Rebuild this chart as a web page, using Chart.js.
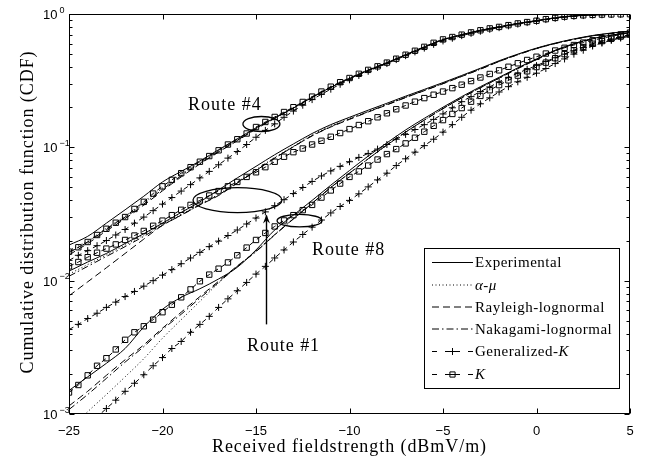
<!DOCTYPE html>
<html><head><meta charset="utf-8">
<script src="https://cdn.jsdelivr.net/npm/chart.js@4/dist/chart.umd.min.js"></script>
<style>html,body{margin:0;padding:0;background:#fff}#wrap{width:654px;height:460px;position:relative}</style>
</head><body><div id="wrap"><canvas id="c" width="654" height="460"></canvas></div>
<script>
// ---------- data ----------
const xCoarse = [-25,-24,-23,-22,-21,-20,-19,-18,-17,-16,-15,-14,-13,-12,-11,-10,-9,-8,-7,-6,-5,-4,-3,-2,-1,0,1,2,3,4,5];
const xFine = [-25,-24.5,-24,-23.5,-23,-22.5,-22,-21.5,-21,-20.5,-20,-19.5,-19,-18.5,-18,-17.5,-17,-16.5,-16,-15.5,-15,-14.5,-14,-13.5,-13,-12.5,-12,-11.5,-11,-10.5,-10,-9.5,-9,-8.5,-8,-7.5,-7,-6.5,-6,-5.5,-5,-4.5,-4,-3.5,-3,-2.5,-2,-1.5,-1,-0.5,0,0.5,1,1.5,2,2.5,3,3.5,4,4.5,5];
const xTicks = [-25,-20,-15,-10,-5,0,5];
const yTickExps = [0,-1,-2,-3];

// Route #4
const r4Exp = [0.0185,0.0215,0.027,0.034,0.043,0.055,0.066,0.079,0.096,0.116,0.14,0.166,0.197,0.237,0.282,0.328,0.378,0.43,0.495,0.567,0.643,0.70,0.755,0.802,0.85,0.892,0.937,0.968,0.985,0.993,0.997];
const r4AlphaMu = [0.0168,0.0199,0.0247,0.0305,0.0385,0.0495,0.0625,0.077,0.094,0.114,0.139,0.167,0.199,0.238,0.283,0.329,0.379,0.431,0.494,0.565,0.642,0.699,0.754,0.80,0.849,0.89,0.935,0.967,0.984,0.992,0.996];
const r4RayLogn = [0.0156,0.019,0.0236,0.0292,0.0368,0.0472,0.06,0.075,0.092,0.112,0.137,0.165,0.197,0.236,0.281,0.327,0.377,0.429,0.492,0.562,0.638,0.696,0.752,0.799,0.847,0.889,0.934,0.966,0.983,0.992,0.996];
const r4NakLogn = [0.0162,0.0195,0.0242,0.0298,0.0376,0.0483,0.0612,0.076,0.093,0.113,0.138,0.166,0.198,0.237,0.282,0.328,0.378,0.43,0.493,0.563,0.64,0.697,0.753,0.80,0.848,0.889,0.934,0.966,0.984,0.992,0.996];
const r4GenK = [0.0142,0.0155,0.0168,0.0183,0.020,0.022,0.0242,0.027,0.030,0.0335,0.0375,0.042,0.047,0.0525,0.059,0.066,0.074,0.083,0.093,0.105,0.119,0.134,0.15,0.168,0.187,0.207,0.228,0.25,0.273,0.297,0.321,0.346,0.372,0.398,0.425,0.455,0.487,0.52,0.555,0.592,0.628,0.658,0.688,0.716,0.743,0.768,0.79,0.815,0.84,0.862,0.883,0.908,0.928,0.948,0.962,0.973,0.981,0.987,0.991,0.994,0.996];
const r4K = [0.0165,0.0178,0.0195,0.022,0.0245,0.0272,0.030,0.0345,0.039,0.045,0.051,0.057,0.064,0.071,0.078,0.086,0.095,0.105,0.115,0.127,0.142,0.155,0.169,0.184,0.200,0.219,0.240,0.262,0.285,0.308,0.331,0.356,0.381,0.405,0.432,0.462,0.495,0.53,0.567,0.608,0.645,0.672,0.70,0.728,0.755,0.78,0.80,0.825,0.85,0.87,0.89,0.915,0.935,0.955,0.968,0.978,0.985,0.99,0.993,0.995,0.997];

// Route #1
const r1Exp = [0.0118,0.0138,0.016,0.019,0.0225,0.027,0.0325,0.039,0.048,0.059,0.072,0.088,0.106,0.127,0.148,0.168,0.19,0.214,0.242,0.272,0.306,0.346,0.392,0.446,0.5,0.555,0.605,0.65,0.69,0.72,0.745];
const r1AlphaMu = [0.0112,0.0132,0.0156,0.0185,0.022,0.0265,0.0315,0.0375,0.0445,0.055,0.068,0.084,0.102,0.124,0.145,0.165,0.186,0.21,0.238,0.268,0.302,0.342,0.387,0.442,0.497,0.552,0.602,0.647,0.687,0.717,0.743];
const r1RayLogn = [0.0077,0.0098,0.0125,0.016,0.0205,0.026,0.031,0.037,0.0435,0.054,0.067,0.083,0.101,0.122,0.142,0.162,0.184,0.208,0.236,0.266,0.3,0.34,0.386,0.44,0.495,0.55,0.6,0.645,0.685,0.716,0.742];
const r1NakLogn = [0.0108,0.0128,0.0152,0.018,0.0215,0.026,0.031,0.037,0.044,0.054,0.067,0.083,0.101,0.122,0.143,0.163,0.185,0.209,0.237,0.267,0.301,0.341,0.386,0.441,0.496,0.551,0.601,0.646,0.686,0.716,0.742];
const r1GenK = [0.0043,0.0047,0.0052,0.0057,0.0063,0.0069,0.0076,0.0083,0.0091,0.010,0.011,0.0121,0.0134,0.0148,0.0163,0.018,0.0198,0.0218,0.024,0.0266,0.0295,0.0328,0.0365,0.0405,0.045,0.050,0.0555,0.061,0.0665,0.072,0.078,0.084,0.09,0.097,0.105,0.115,0.125,0.136,0.148,0.162,0.178,0.198,0.22,0.24,0.262,0.284,0.31,0.335,0.36,0.385,0.41,0.44,0.47,0.5,0.53,0.56,0.585,0.612,0.64,0.668,0.695];
const r1K = [0.0128,0.0138,0.015,0.0162,0.0174,0.0187,0.0202,0.0218,0.0236,0.0258,0.0282,0.031,0.034,0.037,0.040,0.0435,0.047,0.051,0.055,0.06,0.065,0.071,0.078,0.085,0.092,0.098,0.105,0.112,0.12,0.128,0.137,0.147,0.157,0.168,0.18,0.193,0.206,0.22,0.234,0.248,0.262,0.278,0.295,0.314,0.334,0.355,0.378,0.402,0.427,0.452,0.478,0.505,0.532,0.558,0.585,0.61,0.635,0.658,0.68,0.702,0.725];

// Route #8
const r8Exp = [0.0015,0.0019,0.0024,0.0031,0.0045,0.0061,0.0075,0.0087,0.0103,0.0126,0.017,0.024,0.031,0.04,0.052,0.067,0.086,0.108,0.135,0.165,0.2,0.24,0.285,0.335,0.395,0.46,0.535,0.6,0.655,0.695,0.726];
const r8AlphaMu = [0.00076,0.00104,0.0014,0.0019,0.0026,0.0037,0.0051,0.007,0.0096,0.0128,0.0167,0.0222,0.0292,0.038,0.05,0.064,0.082,0.104,0.13,0.16,0.196,0.236,0.281,0.331,0.391,0.456,0.53,0.596,0.651,0.693,0.725];
const r8RayLogn = [0.00115,0.00148,0.00195,0.00255,0.0033,0.0044,0.0058,0.0076,0.0099,0.0129,0.0166,0.0221,0.0291,0.038,0.05,0.064,0.082,0.104,0.13,0.16,0.195,0.235,0.28,0.33,0.39,0.455,0.53,0.595,0.65,0.692,0.724];
const r8NakLogn = [0.00108,0.0014,0.00185,0.00245,0.0032,0.0043,0.0056,0.0074,0.0097,0.0128,0.0165,0.022,0.029,0.038,0.05,0.064,0.082,0.104,0.13,0.16,0.195,0.235,0.28,0.33,0.39,0.455,0.53,0.595,0.65,0.692,0.724];
const r8GenK = [0.0006,0.0007,0.00082,0.00095,0.0011,0.00127,0.00148,0.0017,0.00197,0.0023,0.00265,0.0031,0.0035,0.0041,0.0047,0.0054,0.0063,0.0073,0.0084,0.0097,0.0112,0.0128,0.0148,0.017,0.0195,0.0222,0.0252,0.0285,0.0322,0.036,0.040,0.0448,0.0505,0.057,0.064,0.073,0.082,0.092,0.103,0.115,0.13,0.148,0.168,0.19,0.212,0.235,0.26,0.285,0.31,0.335,0.36,0.39,0.425,0.46,0.5,0.535,0.575,0.605,0.635,0.66,0.68];
const r8K = [0.00145,0.00165,0.00195,0.0023,0.00262,0.00305,0.0036,0.0041,0.00455,0.0051,0.0058,0.0066,0.0075,0.0086,0.0099,0.0111,0.0123,0.0137,0.0155,0.0177,0.0202,0.0228,0.0255,0.0283,0.031,0.0338,0.037,0.042,0.0475,0.0535,0.06,0.066,0.073,0.081,0.089,0.097,0.107,0.118,0.131,0.145,0.16,0.178,0.197,0.22,0.243,0.268,0.293,0.318,0.345,0.372,0.40,0.432,0.466,0.5,0.535,0.565,0.598,0.626,0.652,0.677,0.70];

const legendLabels = ['Experimental','α-μ','Rayleigh-lognormal','Nakagami-lognormal','Generalized-K','K'];
const routeLabels = ['Route #4','Route #1','Route #8'];

// ---------- styles ----------
const STYLE = {
  exp: {borderDash: [], pointRadius: 0},
  am:  {borderDash: [1, 2.5], pointRadius: 0},
  rl:  {borderDash: [7, 4], pointRadius: 0},
  nl:  {borderDash: [7, 3, 1.5, 3], pointRadius: 0},
  gk:  {borderDash: [5, 4], pointStyle: 'cross', pointRadius: 3.5},
  k:   {borderDash: [5, 4], pointStyle: 'rect', pointRadius: 3.8}
};
function series(xs, ys, kind) {
  const s = STYLE[kind];
  return {
    data: xs.map((x, i) => ({x: x, y: ys[i]})),
    borderColor: '#000', borderWidth: 1, borderDash: s.borderDash,
    pointRadius: s.pointRadius, pointStyle: s.pointStyle || 'circle',
    pointBorderColor: '#000', pointBackgroundColor: 'rgba(0,0,0,0)', pointBorderWidth: 1,
    pointHoverRadius: 0, cubicInterpolationMode: 'monotone', fill: false
  };
}
const datasets = [
  series(xCoarse, r4Exp, 'exp'), series(xCoarse, r4AlphaMu, 'am'), series(xCoarse, r4RayLogn, 'rl'),
  series(xCoarse, r4NakLogn, 'nl'), series(xFine, r4GenK, 'gk'), series(xFine, r4K, 'k'),
  series(xCoarse, r1Exp, 'exp'), series(xCoarse, r1AlphaMu, 'am'), series(xCoarse, r1RayLogn, 'rl'),
  series(xCoarse, r1NakLogn, 'nl'), series(xFine, r1GenK, 'gk'), series(xFine, r1K, 'k'),
  series(xCoarse, r8Exp, 'exp'), series(xCoarse, r8AlphaMu, 'am'), series(xCoarse, r8RayLogn, 'rl'),
  series(xCoarse, r8NakLogn, 'nl'), series(xFine, r8GenK, 'gk'), series(xFine, r8K, 'k')
];

// annotations (data units)
const ellipses = [
  {x: -14.71, y: 0.1496, rx: 18.5, ry: 7.5},
  {x: -15.99, y: 0.0402, rx: 44.5, ry: 12.5},
  {x: -12.67, y: 0.0282, rx: 22.5, ry: 6.2}
];
const labelPos = [
  {x: -18.64, y: 0.1921, w: 74},
  {x: -15.48, y: 0.00299, w: 73},
  {x: -12.0, y: 0.0157, w: 73}
];
const arrowSpec = {x: -14.47, y0: 0.0047, y1: 0.0313};

const SERIF = '"Liberation Serif","Times New Roman",serif';
const SANS = '"Liberation Sans",Arial,sans-serif';

function fitText(ctx, txt, x, y, targetW, font) {
  ctx.font = font; ctx.letterSpacing = '0px';
  const w = ctx.measureText(txt).width;
  let ls = (targetW - w) / txt.length;
  ls = Math.max(-0.5, Math.min(2, ls));
  ctx.letterSpacing = ls + 'px';
  ctx.fillText(txt, x, y);
  ctx.letterSpacing = '0px';
}

const decor = {
  id: 'decor',
  afterDatasetsDraw(chart) {
    const {ctx, chartArea: a, scales} = chart;
    const sx = scales.x, sy = scales.y;
    ctx.save();
    ctx.strokeStyle = '#000'; ctx.fillStyle = '#000'; ctx.lineWidth = 1; ctx.setLineDash([]);
    const L = Math.round(a.left) + 0.5, R = Math.round(a.right) - 0.5, T = Math.round(a.top) + 0.5, B = Math.round(a.bottom) - 0.5;
    ctx.strokeRect(L, T, R - L, B - T);
    // x ticks
    ctx.beginPath();
    xTicks.forEach(v => {
      const p = Math.round(sx.getPixelForValue(v)) + 0.5;
      ctx.moveTo(p, B); ctx.lineTo(p, B - 5);
      ctx.moveTo(p, T); ctx.lineTo(p, T + 5);
    });
    // y ticks
    yTickExps.forEach(e => {
      for (let m = 1; m <= 9; m++) {
        const v = m * Math.pow(10, e);
        if (v > 1.0001) break;
        const p = Math.round(sy.getPixelForValue(v)) + 0.5;
        const len = m === 1 ? 5 : 3;
        ctx.moveTo(L, p); ctx.lineTo(L + len, p);
        ctx.moveTo(R, p); ctx.lineTo(R - len, p);
      }
    });
    ctx.stroke();
    // y tick labels
    yTickExps.forEach(e => {
      const p = sy.getPixelForValue(Math.pow(10, e));
      ctx.font = '13px ' + SANS; ctx.textAlign = 'left'; ctx.textBaseline = 'alphabetic';
      ctx.fillText('10', 43, p + 5);
      ctx.font = '9px ' + SANS;
      ctx.fillText(e === 0 ? '0' : '\u2212' + Math.abs(e), 59.5, p - 1.5);
    });
    // axis titles
    ctx.textAlign = 'left'; ctx.textBaseline = 'alphabetic';
    const xtW = 275, xc = (a.left + a.right) / 2;
    fitText(ctx, 'Received fieldstrength (dBmV/m)', xc - xtW / 2, 452, xtW, '18px ' + SERIF);
    ctx.save();
    ctx.translate(33, 212); ctx.rotate(-Math.PI / 2);
    const ytW = 323;
    fitText(ctx, 'Cumulative distribution function (CDF)', -ytW / 2, 0, ytW, '18px ' + SERIF);
    ctx.restore();
    // ellipses
    ctx.lineWidth = 1.3;
    ellipses.forEach(el => {
      const cx = sx.getPixelForValue(el.x), cy = sy.getPixelForValue(el.y);
      ctx.beginPath(); ctx.ellipse(cx, cy, el.rx, el.ry, 0, 0, Math.PI * 2); ctx.stroke();
    });
    // route labels
    routeLabels.forEach((t, i) => {
      const lp = labelPos[i];
      fitText(ctx, t, sx.getPixelForValue(lp.x), sy.getPixelForValue(lp.y), lp.w, '18px ' + SERIF);
    });
    // arrow
    const ax = Math.round(sx.getPixelForValue(arrowSpec.x)) + 0.5;
    const ay0 = sy.getPixelForValue(arrowSpec.y0), ay1 = sy.getPixelForValue(arrowSpec.y1);
    ctx.lineWidth = 1.4;
    ctx.beginPath(); ctx.moveTo(ax, ay0); ctx.lineTo(ax, ay1 + 1); ctx.stroke();
    ctx.beginPath(); ctx.moveTo(ax, ay1); ctx.lineTo(ax - 3.5, ay1 + 9); ctx.lineTo(ax, ay1 + 6); ctx.lineTo(ax + 3.5, ay1 + 9); ctx.closePath(); ctx.fill();
    // legend
    ctx.lineWidth = 1;
    const bx = 424.5, by = 248.5, bw = 195, bh = 140;
    ctx.fillStyle = '#fff'; ctx.fillRect(bx, by, bw, bh);
    ctx.strokeStyle = '#000'; ctx.strokeRect(bx, by, bw, bh);
    ctx.fillStyle = '#000';
    const kinds = ['exp', 'am', 'rl', 'nl', 'gk', 'k'];
    const rows = [262, 284.5, 306.5, 328.5, 351, 374];
    kinds.forEach((k, i) => {
      const y = rows[i] + 0.5;
      ctx.setLineDash(STYLE[k].borderDash);
      ctx.beginPath(); ctx.moveTo(432, y); ctx.lineTo(473, y); ctx.stroke();
      ctx.setLineDash([]);
      if (k === 'gk' || k === 'k') {
        ctx.fillStyle = '#fff'; ctx.fillRect(443, y - 5, 19, 10); ctx.fillStyle = '#000';
        ctx.beginPath(); ctx.moveTo(443, y); ctx.lineTo(462, y); ctx.stroke();
        ctx.fillStyle = '#fff'; ctx.fillRect(441, y - 5, 4, 10); ctx.fillRect(460, y - 5, 4, 10); ctx.fillStyle = '#000';
        ctx.beginPath();
        if (k === 'gk') { ctx.moveTo(452.5 - 3.5, y); ctx.lineTo(452.5 + 3.5, y); ctx.moveTo(452.5, y - 3.5); ctx.lineTo(452.5, y + 3.5); }
        else { ctx.rect(452.5 - 2.6, y - 2.6, 5.2, 5.2); }
        ctx.stroke();
      }
      // text
      const tb = rows[i] + 5;
      let cx = 475;
      ctx.letterSpacing = '0.5px';
      const seg = (txt, italic) => {
        ctx.font = (italic ? 'italic ' : '') + '15px ' + SERIF;
        ctx.fillText(txt, cx, tb);
        cx += ctx.measureText(txt).width;
      };
      if (k === 'am') { seg('α', true); seg('-', false); seg('μ', true); }
      else if (k === 'gk') { seg('Generalized-', false); seg('K', true); }
      else if (k === 'k') { seg('K', true); }
      else seg(legendLabels[i], false);
      ctx.letterSpacing = '0px';
    });
    ctx.restore();
  }
};

new Chart(document.getElementById('c'), {
  type: 'line',
  data: {datasets: datasets},
  options: {
    responsive: false, animation: false, devicePixelRatio: 1,
    layout: {padding: {left: 0, right: 24, top: 14, bottom: 0}},
    plugins: {legend: {display: false}, tooltip: {enabled: false}},
    elements: {line: {tension: 0}},
    scales: {
      x: {
        type: 'linear', min: -25, max: 5,
        grid: {display: false, drawTicks: false}, border: {display: false},
        ticks: {stepSize: 5, color: '#000', padding: 10, font: {family: SANS, size: 13},
          callback: v => (v < 0 ? '\u2212' + Math.abs(v) : String(v))},
        afterFit: s => { s.height = 46; }
      },
      y: {
        type: 'logarithmic', min: 0.001, max: 1,
        grid: {display: false, drawTicks: false}, border: {display: false},
        ticks: {display: false},
        afterFit: s => { s.width = 69; }
      }
    }
  },
  plugins: [decor]
});
</script>
</body></html>
